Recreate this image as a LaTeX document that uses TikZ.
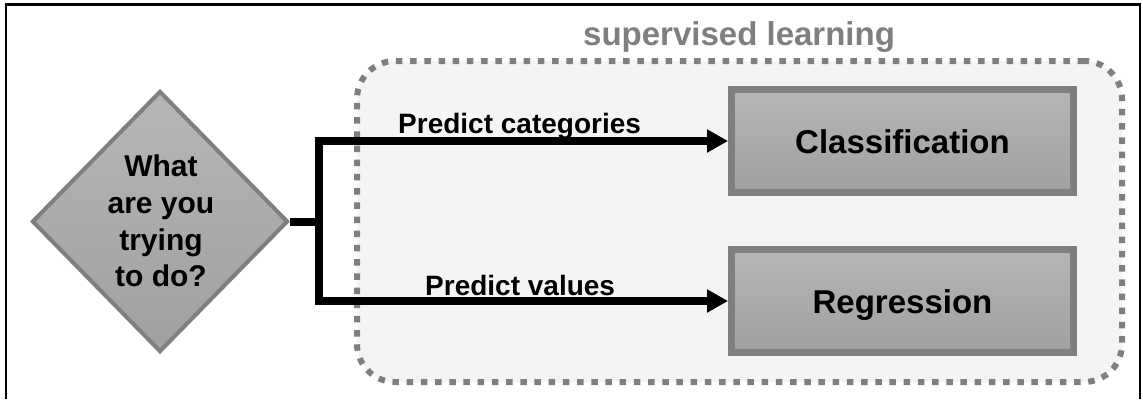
\documentclass[tikz,border=0pt]{standalone}
\usepackage{fontspec}
\setmainfont{Liberation Sans}
\usetikzlibrary{arrows.meta,shapes.geometric}
\definecolor{bord}{HTML}{7F7F7F}
\definecolor{pane}{HTML}{F4F4F4}
\definecolor{gtop}{HTML}{B6B6B6}
\definecolor{gbot}{HTML}{A0A0A0}
\begin{document}
\begin{tikzpicture}[x=1pt,y=-1pt,
  lab/.style={font=\fontsize{28}{32}\selectfont\bfseries, inner sep=0pt, anchor=base west},
  group/.style={draw=bord, line width=6pt, dash pattern=on 6.5pt off 7.7pt, fill=pane,
     rounded corners=38pt, minimum width=765pt, minimum height=321pt, inner sep=0pt},
  grouplab/.style={font=\fontsize{33}{38}\selectfont\bfseries, text=bord, inner sep=0pt, anchor=base west},
  boxnode/.style={draw=bord, line width=7pt, top color=gtop, bottom color=gbot,
     minimum width=342pt, minimum height=103pt, inner sep=0pt, text height=24pt, text depth=0pt,
     font=\fontsize{33}{38}\selectfont\bfseries},
  decision/.style={diamond, draw=bord, line width=4pt, top color=gtop, bottom color=gbot,
     minimum width=256pt, minimum height=261pt, inner sep=0pt},
  qtext/.style={align=center, inner sep=0pt, font=\fontsize{30}{36.7}\selectfont\bfseries},
  conn/.style={line width=8pt, line join=miter, -{Triangle[length=21pt,width=22pt]}}]
\useasboundingbox (0,0) rectangle (1143,399);
\fill[white] (0,0) rectangle (1143,399);
\draw[line width=2.5pt] (6,399) -- (6,4.5) -- (1140,4.5) -- (1140,399);
\node[group] (grp) at (739.5,221.5) {};
\node[grouplab] (grpl) at (583,45) {supervised learning};
\node[boxnode] (cls) at (902.5,141) {Classification};
\node[boxnode] (reg) at (902.5,301) {Regression};
\node[decision] (q) at (160,221.5) {};
\node[qtext] (qt) at (161,221) {What\\are you\\trying\\to do?};
\coordinate (j) at (319,221.5);
\draw[conn] (q.east) -- (j) |- (cls.west);
\draw[conn] (j) |- (reg.west);
\node[lab] (l1) at (398,133) {Predict categories};
\node[lab] (l2) at (425,295) {Predict values};
\end{tikzpicture}
\end{document}
